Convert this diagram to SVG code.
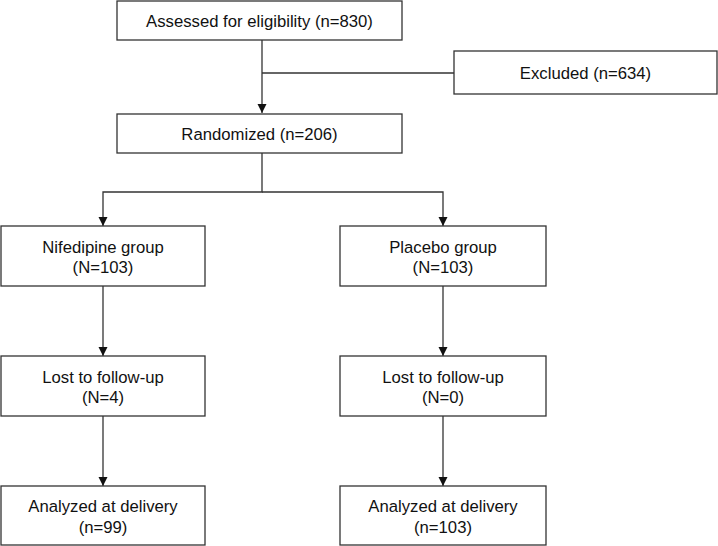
<svg xmlns="http://www.w3.org/2000/svg" width="718" height="546" viewBox="0 0 718 546">
<style>
.box{fill:#fff;stroke:#333;stroke-width:1.3}
.t{font-family:"Liberation Sans",Arial,sans-serif;font-size:16.7px;fill:#111;text-anchor:middle}
.c{fill:none;stroke:#333;stroke-width:1.3}
</style>
<defs>
<marker id="ah" markerWidth="10" markerHeight="10" refX="9" refY="5" orient="auto" markerUnits="userSpaceOnUse">
<path d="M0,0.5 L9,5 L0,9.5 Z" fill="#111"/>
</marker>
</defs>
<rect width="718" height="546" fill="#fff"/>
<g id="connectors">
<path class="c" d="M262,40 V113" marker-end="url(#ah)"/>
<path class="c" d="M262,73 H454"/>
<path class="c" d="M262,153 V192 H103 V226" marker-end="url(#ah)"/>
<path class="c" d="M262,192 H443 V226" marker-end="url(#ah)"/>
<path class="c" d="M103,286 V356" marker-end="url(#ah)"/>
<path class="c" d="M443,286 V356" marker-end="url(#ah)"/>
<path class="c" d="M103,416 V486" marker-end="url(#ah)"/>
<path class="c" d="M443,416 V486" marker-end="url(#ah)"/>
</g>
<g id="assessed">
<rect class="box" x="117" y="1" width="285" height="39"/>
<text class="t" x="259.5" y="26.5">Assessed for eligibility (n=830)</text>
</g>
<g id="excluded">
<rect class="box" x="454" y="51" width="263" height="43"/>
<text class="t" x="585.5" y="78.5">Excluded (n=634)</text>
</g>
<g id="randomized">
<rect class="box" x="117" y="114" width="285" height="39"/>
<text class="t" x="259.5" y="140">Randomized (n=206)</text>
</g>
<g id="nifedipine">
<rect class="box" x="1" y="226" width="204" height="60"/>
<text class="t" x="103" y="252.5">Nifedipine group</text>
<text class="t" x="103" y="273">(N=103)</text>
</g>
<g id="placebo">
<rect class="box" x="340" y="226" width="206" height="60"/>
<text class="t" x="443" y="252.5">Placebo group</text>
<text class="t" x="443" y="273">(N=103)</text>
</g>
<g id="lost1">
<rect class="box" x="1" y="356" width="204" height="60"/>
<text class="t" x="103" y="382.5">Lost to follow-up</text>
<text class="t" x="103" y="403">(N=4)</text>
</g>
<g id="lost2">
<rect class="box" x="340" y="356" width="206" height="60"/>
<text class="t" x="443" y="382.5">Lost to follow-up</text>
<text class="t" x="443" y="403">(N=0)</text>
</g>
<g id="analyzed1">
<rect class="box" x="1" y="486" width="204" height="59"/>
<text class="t" x="103" y="512">Analyzed at delivery</text>
<text class="t" x="103" y="532.5">(n=99)</text>
</g>
<g id="analyzed2">
<rect class="box" x="340" y="486" width="206" height="59"/>
<text class="t" x="443" y="512">Analyzed at delivery</text>
<text class="t" x="443" y="532.5">(n=103)</text>
</g>
</svg>
